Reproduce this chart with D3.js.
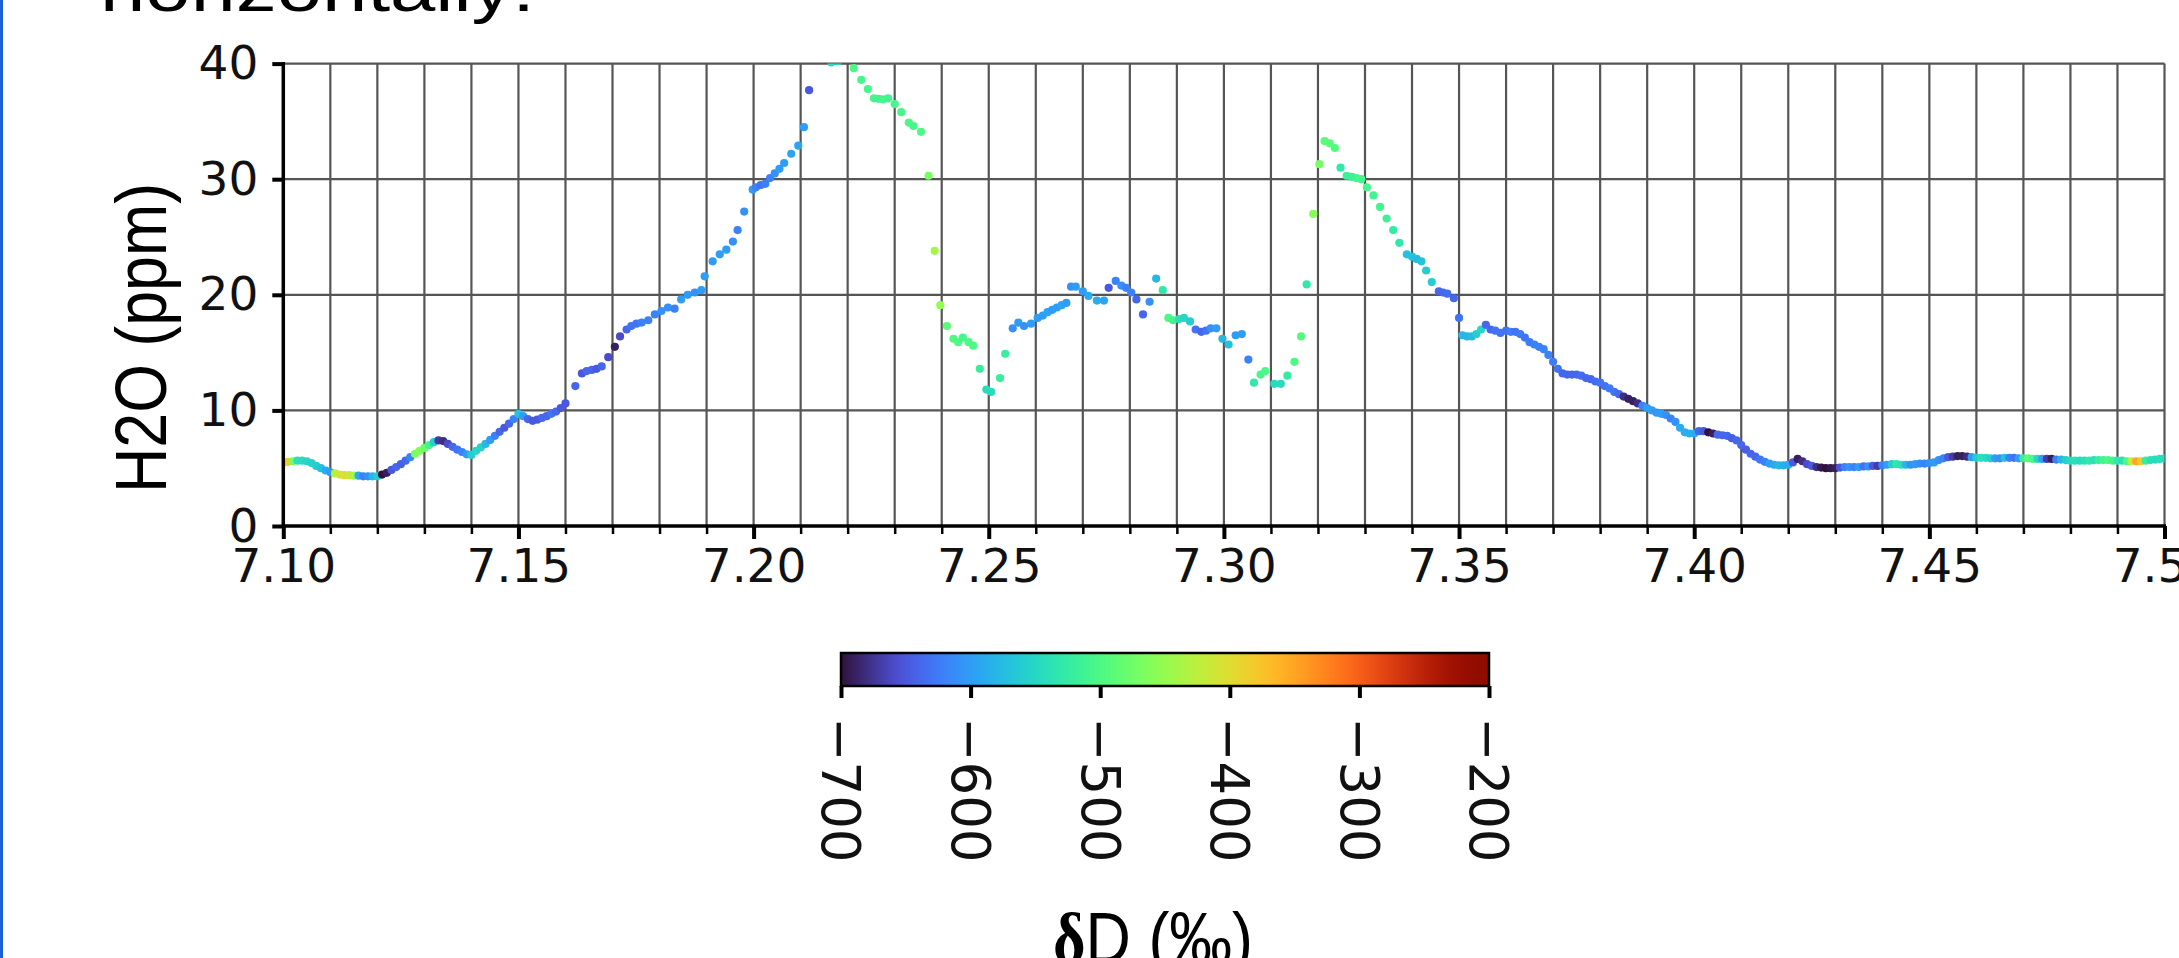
<!DOCTYPE html>
<html>
<head>
<meta charset="utf-8">
<script src="https://cdn.jsdelivr.net/npm/d3@7"></script>
<style>
  body { margin: 0; background: #fff; overflow: hidden; }
  svg { display: block; }
</style>
</head>
<body>
<div id="chart"></div>
<script>
// x position (axis units), H2O (ppm), dD (permil) for each dot
var xs = [
  7.100,7.101,7.102,7.103,7.104,7.105,7.106,7.107,7.108,7.109,
  7.110,7.111,7.112,7.113,7.114,7.115,7.116,7.117,7.118,7.119,
  7.120,7.121,7.122,7.123,7.124,7.125,7.126,7.127,7.128,7.129,
  7.130,7.131,7.132,7.133,7.134,7.135,7.136,7.137,7.138,7.139,
  7.140,7.141,7.142,7.143,7.144,7.145,7.146,7.147,7.148,7.149,
  7.150,7.151,7.152,7.153,7.154,7.155,7.156,7.157,7.158,7.159,
  7.160,7.1621,7.1635,7.1645,7.1656,7.1666,7.1677,7.1691,7.1705,7.1716,
  7.1730,7.1740,7.1751,7.1762,7.1776,7.1790,7.1804,7.1818,7.1832,7.1846,
  7.1860,7.1875,7.1889,7.1896,7.1913,7.1928,7.1942,7.1956,7.1966,7.1980,
  7.1998,7.2005,7.2015,7.2025,7.2035,7.2045,7.2055,7.2065,7.2080,7.2095,
  7.2107,7.2118,7.2165,7.2180,7.2213,7.2229,7.2243,7.2256,7.2266,7.2276,
  7.2286,7.2300,7.2314,7.2330,7.2340,7.2356,7.2372,7.2385,7.2397,7.2411,
  7.2425,7.2435,7.2445,7.2457,7.2467,7.2481,7.2495,7.2505,7.2524,7.2535,
  7.2551,7.2563,7.2575,7.2590,7.2604,7.2615,7.2625,7.2635,7.2645,7.2655,
  7.2665,7.2675,7.2685,7.2700,7.2712,7.2730,7.2745,7.2755,7.2770,7.2782,
  7.2792,7.2803,7.2814,7.2828,7.2842,7.2856,7.2870,7.2882,7.2892,7.2905,
  7.2915,7.2928,7.2940,7.2952,7.2962,7.2972,7.2984,7.2997,7.3010,7.3025,
  7.3038,7.3052,7.3064,7.3078,7.3088,7.3107,7.3121,7.3135,7.3150,7.3164,
  7.3176,7.3190,7.3203,7.3214,7.3225,7.3236,7.3248,7.3261,7.3272,7.3282,
  7.3292,7.3304,7.3318,7.3332,7.3346,7.3360,7.3373,7.3389,7.3400,7.3410,
  7.3420,7.3430,7.3442,7.3457,7.3466,7.3475,7.3489,7.3500,7.3507,7.3517,
  7.3527,7.3537,7.3547,7.3557,7.3567,7.3577,7.3588,7.3600,7.3610,7.3620,
  7.363,7.364,7.365,7.366,7.367,7.368,7.369,7.370,7.371,7.372,
  7.373,7.374,7.375,7.376,7.377,7.378,7.379,7.380,7.381,7.382,
  7.383,7.384,7.385,7.386,7.387,7.388,7.389,7.390,7.391,7.392,
  7.393,7.394,7.395,7.396,7.397,7.398,7.399,7.400,7.401,7.402,
  7.403,7.404,7.405,7.406,7.407,7.408,7.409,7.410,7.411,7.412,
  7.413,7.414,7.415,7.416,7.417,7.418,7.419,7.420,7.421,7.422,
  7.423,7.424,7.425,7.426,7.427,7.428,7.429,7.430,7.431,7.432,
  7.433,7.434,7.435,7.436,7.437,7.438,7.439,7.440,7.441,7.442,
  7.443,7.444,7.445,7.446,7.447,7.448,7.449,7.450,7.451,7.452,
  7.453,7.454,7.455,7.456,7.457,7.458,7.459,7.460,7.461,7.462,
  7.463,7.464,7.465,7.466,7.467,7.468,7.469,7.470,7.471,7.472,
  7.473,7.474,7.475,7.476,7.477,7.478,7.479,7.480,7.481,7.482,
  7.483,7.484,7.485,7.486,7.487,7.488,7.489,7.490,7.491,7.492,
  7.493,7.494,7.495,7.496,7.497,7.498,7.499,7.500
];

var h2o = [
  5.5,5.55,5.6,5.65,5.65,5.6,5.45,5.2,5.0,4.8,
  4.65,4.55,4.45,4.4,4.4,4.35,4.35,4.3,4.3,4.3,
  4.3,4.45,4.6,4.85,5.1,5.35,5.65,5.95,6.25,6.5,
  6.75,7.0,7.25,7.4,7.35,7.1,6.85,6.6,6.4,6.2,
  6.15,6.5,6.8,7.1,7.45,7.8,8.15,8.5,8.85,9.25,
  9.7,9.5,9.25,9.1,9.2,9.35,9.5,9.7,9.9,10.2,
  10.6,12.1,13.2,13.4,13.5,13.6,13.8,14.6,15.5,16.4,
  17.0,17.3,17.5,17.6,17.8,18.3,18.6,18.9,18.8,19.6,
  20.0,20.2,20.4,21.6,22.9,23.5,23.9,24.6,25.6,27.2,
  29.1,29.3,29.5,29.6,30.1,30.5,30.9,31.4,32.2,32.9,
  34.5,37.7,40.1,40.2,39.6,38.6,37.8,37.0,36.95,36.9,
  37.0,36.5,35.8,34.9,34.6,34.1,30.3,23.8,19.1,17.3,
  16.2,15.9,16.3,15.9,15.6,13.6,11.8,11.6,12.8,14.9,
  17.1,17.6,17.3,17.5,18.0,18.2,18.5,18.7,18.9,19.1,
  19.3,20.7,20.7,20.3,19.9,19.5,19.5,20.6,21.2,20.8,
  20.6,20.2,19.6,18.3,19.4,21.4,20.4,18.0,17.8,17.9,
  18.0,17.7,17.0,16.8,16.9,17.1,17.1,16.2,15.7,16.5,
  16.6,14.4,12.4,13.1,13.4,12.3,12.3,13.0,14.2,16.4,
  20.9,27.0,31.3,33.3,33.1,32.7,31.0,30.3,30.2,30.1,
  30.0,29.3,28.6,27.6,26.6,25.6,24.5,23.5,23.3,23.1,
  22.9,22.1,21.1,20.3,20.2,20.1,19.7,18.0,16.5,16.4,
  16.4,16.6,17.0,17.4,17.0,16.9,16.7,16.9,16.8,16.8,
  16.6,16.3,15.9,15.7,15.5,15.3,14.8,14.2,13.6,13.2,
  13.1,13.1,13.1,13.0,12.8,12.7,12.5,12.4,12.1,11.9,
  11.6,11.4,11.2,11.0,10.8,10.6,10.4,10.2,10.0,9.8,
  9.7,9.6,9.3,9.0,8.5,8.1,8.0,8.0,8.2,8.2,
  8.1,8.0,7.9,7.85,7.8,7.6,7.4,7.0,6.6,6.25,
  6.0,5.75,5.55,5.4,5.3,5.25,5.25,5.3,5.5,5.8,
  5.6,5.35,5.2,5.1,5.05,5.0,5.0,5.0,5.05,5.1,
  5.1,5.1,5.1,5.15,5.15,5.2,5.2,5.25,5.3,5.35,
  5.35,5.3,5.3,5.3,5.35,5.4,5.4,5.45,5.5,5.7,
  5.85,5.95,6.0,6.05,6.05,6.0,5.95,5.9,5.9,5.9,
  5.85,5.85,5.85,5.9,5.9,5.9,5.85,5.85,5.85,5.8,
  5.8,5.8,5.8,5.8,5.75,5.75,5.7,5.65,5.65,5.65,
  5.65,5.65,5.7,5.7,5.7,5.7,5.65,5.65,5.65,5.6,
  5.6,5.6,5.6,5.65,5.7,5.75,5.8,5.85
];

var dD = [
  -370,-380,-470,-540,-545,-550,-555,-560,-570,-590,
  -600,-430,-410,-400,-410,-440,-590,-620,-610,-580,
  -560,-700,-690,-650,-640,-645,-640,-620,-470,-460,
  -480,-510,-560,-670,-680,-660,-640,-630,-620,-600,
  -560,-550,-555,-580,-600,-620,-640,-650,-640,-620,
  -570,-600,-640,-650,-650,-640,-640,-630,-640,-650,
  -650,-640,-650,-640,-640,-650,-640,-660,-690,-660,
  -640,-630,-630,-620,-620,-620,-610,-610,-620,-600,
  -600,-610,-600,-600,-600,-600,-600,-610,-620,-610,
  -600,-620,-630,-620,-620,-610,-600,-600,-595,-595,
  -600,-650,-545,-545,-500,-505,-505,-505,-510,-505,
  -510,-505,-505,-500,-505,-500,-470,-440,-450,-490,
  -500,-500,-505,-500,-500,-520,-545,-545,-520,-520,
  -610,-600,-610,-600,-600,-600,-595,-600,-600,-595,
  -600,-610,-600,-600,-590,-590,-595,-650,-620,-610,
  -620,-620,-640,-640,-610,-580,-530,-500,-510,-540,
  -550,-560,-630,-640,-630,-610,-600,-580,-570,-600,
  -600,-620,-530,-505,-500,-545,-545,-525,-500,-495,
  -530,-460,-470,-490,-490,-495,-530,-515,-515,-510,
  -505,-505,-510,-510,-515,-525,-530,-570,-570,-575,
  -570,-560,-560,-640,-640,-635,-640,-630,-580,-580,
  -575,-560,-550,-640,-640,-630,-630,-630,-625,-630,
  -625,-630,-625,-620,-620,-620,-620,-625,-630,-640,
  -640,-640,-640,-635,-640,-640,-635,-630,-630,-625,
  -630,-640,-680,-690,-690,-680,-620,-600,-600,-605,
  -600,-610,-620,-610,-590,-585,-585,-590,-640,-650,
  -700,-690,-640,-640,-640,-645,-640,-640,-645,-640,
  -640,-630,-620,-600,-590,-580,-585,-590,-650,-690,
  -680,-660,-650,-680,-695,-700,-695,-690,-650,-620,
  -610,-620,-600,-630,-610,-650,-670,-620,-600,-560,
  -530,-540,-580,-610,-600,-610,-620,-610,-600,-610,
  -620,-650,-670,-690,-690,-680,-600,-560,-540,-545,
  -560,-600,-610,-570,-620,-630,-600,-520,-490,-500,
  -550,-600,-670,-690,-620,-580,-560,-545,-540,-545,
  -540,-530,-540,-520,-510,-500,-510,-530,-540,-500,
  -420,-350,-380,-520,-540,-545,-540,-545
];

var xMajorTicks = [7.10, 7.15, 7.20, 7.25, 7.30, 7.35, 7.40, 7.45, 7.50];
var yTicks = [0, 10, 20, 30, 40];
var cbTicks = [-700, -600, -500, -400, -300, -200];

var width = 2179, height = 958;

var x = d3.scaleLinear().domain([7.10, 7.50]).range([283.3, 2164.5]);
var y = d3.scaleLinear().domain([0, 40]).range([526, 63.6]);

// turbo, with the dark end pulled towards matplotlib's purple
var lowEnd = d3.interpolateRgb("#30123b", d3.interpolateTurbo(0.08));
function turbo(t) {
  return t < 0.08 ? lowEnd(t / 0.08) : d3.interpolateTurbo(t);
}
var color = d3.scaleSequential(turbo).domain([-700, -200]);

var svg = d3.select("#chart").append("svg")
    .attr("width", width)
    .attr("height", height);

// blue slide edge
svg.append("rect")
    .attr("x", 0).attr("y", 0)
    .attr("width", 3).attr("height", height)
    .attr("fill", "#1b5fd9");

// cut-off slide heading
svg.append("text")
    .attr("x", 100)
    .attr("y", 11)
    .attr("font-family", "Liberation Sans, Arial, sans-serif")
    .attr("font-size", "64px")
    .attr("textLength", 435)
    .attr("lengthAdjust", "spacingAndGlyphs")
    .attr("fill", "#000")
    .text("horizontally:");

var x0 = x.range()[0], x1 = x.range()[1];
var yTop = y(40), yBot = y(0);

// grid
var grid = svg.append("g").attr("class", "grid");
grid.selectAll(".vgrid")
    .data(x.ticks(40))
  .enter().append("line")
    .attr("class", "vgrid")
    .attr("x1", function(d) { return x(d); })
    .attr("x2", function(d) { return x(d); })
    .attr("y1", yTop).attr("y2", yBot)
    .attr("stroke", "#555")
    .attr("stroke-width", 2.2);
grid.selectAll(".hgrid")
    .data(yTicks)
  .enter().append("line")
    .attr("class", "hgrid")
    .attr("x1", x0).attr("x2", x1)
    .attr("y1", function(d) { return y(d); })
    .attr("y2", function(d) { return y(d); })
    .attr("stroke", "#555")
    .attr("stroke-width", 2.2);

svg.append("clipPath").attr("id", "plot-clip")
  .append("rect")
    .attr("x", x0).attr("y", yTop)
    .attr("width", x1 - x0).attr("height", yBot - yTop);

var points = d3.range(xs.length);
svg.append("g")
    .attr("clip-path", "url(#plot-clip)")
  .selectAll("circle")
    .data(points)
  .enter().append("circle")
    .attr("cx", function(i) { return x(xs[i]); })
    .attr("cy", function(i) { return y(h2o[i]); })
    .attr("r", 4.1)
    .attr("fill", function(i) { return color(dD[i]); });

// x axis: minor ticks every 0.01, labelled major ticks every 0.05
var xAxisMinor = svg.append("g")
    .attr("transform", "translate(0," + yBot + ")")
    .call(d3.axisBottom(x).tickValues(x.ticks(40)).tickSize(8).tickFormat(""));
xAxisMinor.select(".domain").remove();
xAxisMinor.selectAll(".tick line").attr("stroke", "#000").attr("stroke-width", 2.5);

var xAxis = svg.append("g")
    .attr("transform", "translate(0," + yBot + ")")
    .call(d3.axisBottom(x).tickValues(xMajorTicks).tickSize(13).tickPadding(10)
      .tickFormat(d3.format(".2f")));
xAxis.select(".domain").remove();
xAxis.selectAll(".tick line").attr("stroke", "#000").attr("stroke-width", 4);
xAxis.selectAll(".tick text")
    .attr("font-family", "DejaVu Sans, sans-serif")
    .attr("font-size", "47px")
    .attr("fill", "#111");

var yAxis = svg.append("g")
    .attr("transform", "translate(" + x0 + ",0)")
    .call(d3.axisLeft(y).tickValues(yTicks).tickSize(11).tickPadding(14));
yAxis.select(".domain").remove();
yAxis.selectAll(".tick line").attr("stroke", "#000").attr("stroke-width", 4);
yAxis.selectAll(".tick text")
    .attr("font-family", "DejaVu Sans, sans-serif")
    .attr("font-size", "47px")
    .attr("fill", "#111");

// spines
svg.append("line")
    .attr("x1", x0).attr("x2", x0).attr("y1", yTop - 1.5).attr("y2", yBot + 1.5)
    .attr("stroke", "#000").attr("stroke-width", 3.5);
svg.append("line")
    .attr("x1", x0 - 1.5).attr("x2", x1 + 1.5).attr("y1", yBot).attr("y2", yBot)
    .attr("stroke", "#000").attr("stroke-width", 3.5);

svg.append("text")
    .attr("transform", "translate(166,338) rotate(-90)")
    .attr("text-anchor", "middle")
    .attr("font-family", "Liberation Sans, Arial, sans-serif")
    .attr("font-size", "72px")
    .attr("textLength", 310)
    .attr("lengthAdjust", "spacingAndGlyphs")
    .attr("fill", "#000")
    .text("H2O (ppm)");

// colour bar
var cb = d3.scaleLinear().domain([-700, -200]).range([841, 1489]);
var cbTop = 653, cbH = 33;

var grad = svg.append("defs").append("linearGradient")
    .attr("id", "cb-grad")
    .attr("x1", "0%").attr("x2", "100%").attr("y1", "0%").attr("y2", "0%");
grad.selectAll("stop")
    .data(d3.range(0, 1.0001, 0.02))
  .enter().append("stop")
    .attr("offset", function(t) { return (t * 100) + "%"; })
    .attr("stop-color", function(t) { return turbo(t); });

svg.append("rect")
    .attr("x", cb(-700)).attr("y", cbTop)
    .attr("width", cb(-200) - cb(-700)).attr("height", cbH)
    .attr("fill", "url(#cb-grad)")
    .attr("stroke", "#000")
    .attr("stroke-width", 2.5);

var cbAxis = svg.append("g")
    .attr("transform", "translate(0," + (cbTop + cbH) + ")")
    .call(d3.axisBottom(cb).tickValues(cbTicks).tickSize(12));
cbAxis.select(".domain").remove();
cbAxis.selectAll(".tick line").attr("stroke", "#000").attr("stroke-width", 4);
cbAxis.selectAll(".tick text")
    .attr("transform", "rotate(90)")
    .attr("x", 31)
    .attr("y", 0)
    .attr("dy", "0.36em")
    .style("text-anchor", "start")
    .attr("font-family", "DejaVu Sans, sans-serif")
    .attr("font-size", "53px")
    .attr("fill", "#111");

var cbLabel = svg.append("text")
    .attr("x", 1153)
    .attr("y", 963)
    .attr("text-anchor", "middle")
    .attr("font-family", "Liberation Sans, Arial, sans-serif")
    .attr("font-size", "72px")
    .attr("textLength", 200)
    .attr("lengthAdjust", "spacingAndGlyphs")
    .attr("fill", "#000");
cbLabel.append("tspan")
    .attr("font-family", "Liberation Serif, Times New Roman, serif")
    .attr("font-weight", "bold")
    .text("\u03b4");
cbLabel.append("tspan").text("D (\u2030)");
</script>
</body>
</html>
